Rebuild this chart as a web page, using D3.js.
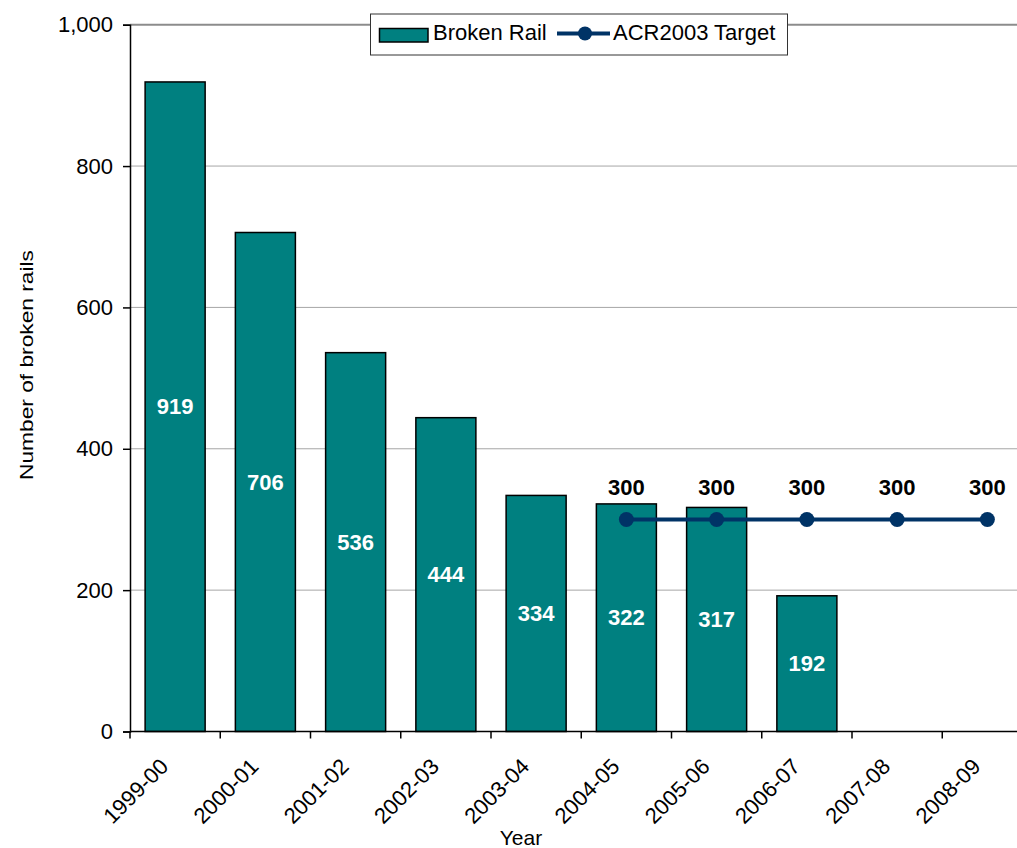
<!DOCTYPE html>
<html>
<head>
<meta charset="utf-8">
<script src="https://cdn.jsdelivr.net/npm/d3@7/dist/d3.min.js"></script>
<style>
  html, body { margin: 0; padding: 0; background: #fff; }
  svg { display: block; font-family: "Liberation Sans", Arial, sans-serif; }
</style>
</head>
<body>
<svg id="chart" width="1017" height="848"></svg>
<script>
// Broken rails per financial year, with the ACR2003 target
const categories = ["1999-00", "2000-01", "2001-02", "2002-03", "2003-04",
                    "2004-05", "2005-06", "2006-07", "2007-08", "2008-09"];
const brokenRail = [919, 706, 536, 444, 334, 322, 317, 192, null, null];
const acrTarget  = [null, null, null, null, null, 300, 300, 300, 300, 300];
const yTicks = [0, 200, 400, 600, 800, 1000];

const svg = d3.select("#chart");
const plotLeft = 130, plotRight = 1032.5, plotTop = 24.7, plotBottom = 731.5;

const x = d3.scaleBand().domain(categories).range([plotLeft, plotRight])
  .paddingInner(0.335).paddingOuter(0.1675);
const y = d3.scaleLinear().domain([0, 1000]).range([plotBottom, plotTop]);
const step = x.step();
const fmt = d3.format(",");

// horizontal gridlines
svg.append("g").selectAll("line").data(yTicks.filter(d => d > 0)).join("line")
  .attr("x1", plotLeft).attr("x2", 1017)
  .attr("y1", d => y(d)).attr("y2", d => y(d))
  .attr("stroke", d => d === 1000 ? "#8c8c8c" : "#a6a6a6")
  .attr("stroke-width", d => d === 1000 ? 2 : 1);

// bars
const bars = categories.map((c, i) => ({ c, v: brokenRail[i] })).filter(d => d.v != null);
svg.append("g").selectAll("rect").data(bars).join("rect")
  .attr("x", d => x(d.c)).attr("width", x.bandwidth())
  .attr("y", d => y(d.v)).attr("height", d => y(0) - y(d.v))
  .attr("fill", "#008080").attr("stroke", "#000").attr("stroke-width", 1.5);

// y axis
const yAxis = svg.append("g").attr("transform", `translate(${plotLeft},0)`)
  .call(d3.axisLeft(y).tickValues(yTicks).tickFormat(fmt).tickSize(7).tickPadding(10));
yAxis.select(".domain").attr("stroke", "#000").attr("stroke-width", 1.5);
yAxis.selectAll(".tick line").attr("stroke", "#000").attr("stroke-width", 1.5);
yAxis.selectAll(".tick text").attr("font-size", 22).attr("fill", "#000")
  .attr("font-family", "Liberation Sans, Arial, sans-serif");

// x axis: ticks at category boundaries
const xg = svg.append("g");
xg.append("line").attr("x1", plotLeft).attr("x2", 1017).attr("y1", plotBottom).attr("y2", plotBottom)
  .attr("stroke", "#000").attr("stroke-width", 1.5);
xg.selectAll("line.tk").data(categories).join("line").attr("class", "tk")
  .attr("x1", d => x(d) + x.bandwidth() / 2 - step / 2)
  .attr("x2", d => x(d) + x.bandwidth() / 2 - step / 2)
  .attr("y1", plotBottom).attr("y2", plotBottom + 7)
  .attr("stroke", "#000").attr("stroke-width", 1.5);
xg.selectAll("text").data(categories).join("text")
  .attr("transform", d => `translate(${x(d) + x.bandwidth() / 2 - 11},${plotBottom + 31}) rotate(-45)`)
  .attr("text-anchor", "end").attr("dy", "0.35em")
  .attr("font-size", 22).attr("fill", "#000")
  .text(d => d);

// axis titles
svg.append("text")
  .attr("transform", `translate(33,${(250 + 480) / 2}) rotate(-90)`)
  .attr("text-anchor", "middle").attr("font-size", 18.5).attr("fill", "#000")
  .attr("textLength", 230).attr("lengthAdjust", "spacingAndGlyphs")
  .text("Number of broken rails");
svg.append("text").attr("x", 521).attr("y", 845)
  .attr("text-anchor", "middle").attr("font-size", 21).attr("fill", "#000")
  .text("Year");

// value labels inside bars
svg.append("g").selectAll("text").data(bars).join("text")
  .attr("x", d => x(d.c) + x.bandwidth() / 2)
  .attr("y", d => (y(d.v) + y(0)) / 2)
  .attr("dy", "0.35em").attr("text-anchor", "middle")
  .attr("font-size", 22).attr("font-weight", "bold").attr("fill", "#fff")
  .text(d => d.v);

// target line
const tgt = categories.map((c, i) => ({ c, v: acrTarget[i] })).filter(d => d.v != null);
const cx = d => x(d.c) + x.bandwidth() / 2;
svg.append("path").datum(tgt)
  .attr("d", d3.line().x(cx).y(d => y(d.v)))
  .attr("fill", "none").attr("stroke", "#003366").attr("stroke-width", 4);
svg.append("g").selectAll("circle").data(tgt).join("circle")
  .attr("cx", cx).attr("cy", d => y(d.v)).attr("r", 7.5).attr("fill", "#003366");
svg.append("g").selectAll("text").data(tgt).join("text")
  .attr("x", cx).attr("y", d => y(d.v) - 32)
  .attr("dy", "0.35em").attr("text-anchor", "middle")
  .attr("font-size", 22).attr("font-weight", "bold").attr("fill", "#000")
  .text(d => d.v);

// legend
const lg = svg.append("g");
lg.append("rect").attr("x", 370.5).attr("y", 14).attr("width", 417).attr("height", 41)
  .attr("fill", "#fff").attr("stroke", "#333").attr("stroke-width", 1);
lg.append("rect").attr("x", 379.5).attr("y", 28.5).attr("width", 48.5).attr("height", 13.5)
  .attr("fill", "#008080").attr("stroke", "#000").attr("stroke-width", 1.5);
lg.append("text").attr("x", 433).attr("y", 40).attr("font-size", 22).attr("fill", "#000")
  .text("Broken Rail");
lg.append("line").attr("x1", 557).attr("x2", 610).attr("y1", 33.5).attr("y2", 33.5)
  .attr("stroke", "#003366").attr("stroke-width", 4);
lg.append("circle").attr("cx", 585).attr("cy", 33.5).attr("r", 7).attr("fill", "#003366");
lg.append("text").attr("x", 613).attr("y", 40).attr("font-size", 22).attr("fill", "#000")
  .text("ACR2003 Target");
</script>
</body>
</html>
